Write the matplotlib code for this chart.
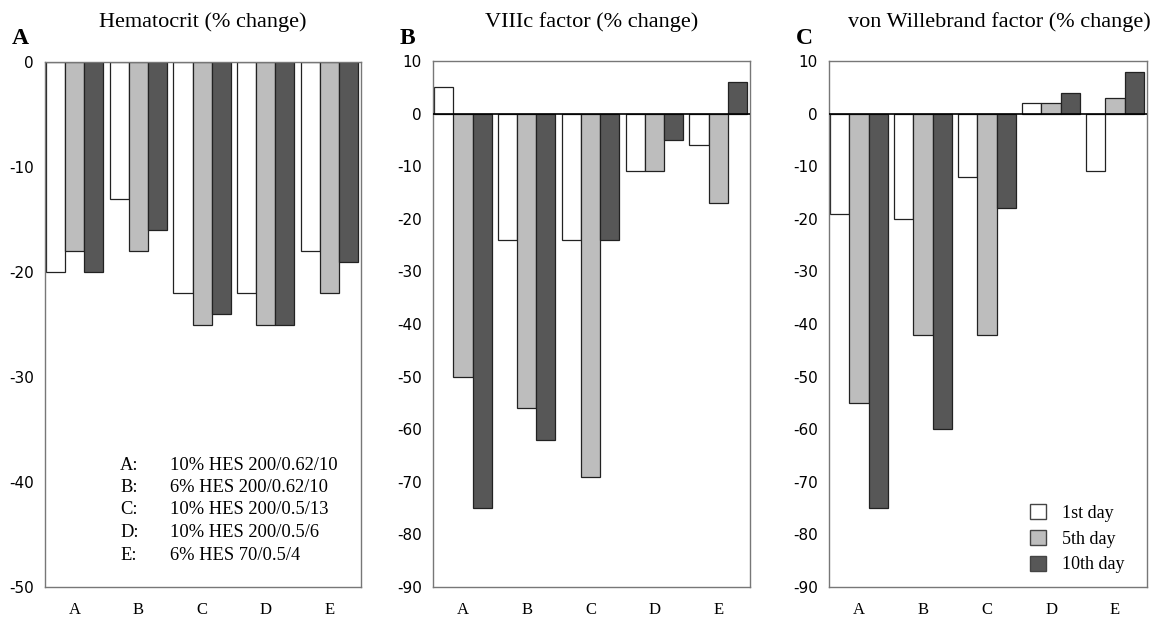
import numpy as np
import matplotlib
matplotlib.use("Agg")
import matplotlib.pyplot as plt
from matplotlib.patches import Patch

plt.rcParams['font.family'] = ['Liberation Serif', 'DejaVu Serif']
plt.rcParams['axes.unicode_minus'] = False

groups = ["A", "B", "C", "D", "E"]
days = ["1st day", "5th day", "10th day"]
day_colors = ["white", "#bdbdbd", "#575757"]

hematocrit = [[-20, -13, -22, -22, -18],
              [-18, -18, -25, -25, -22],
              [-20, -16, -24, -25, -19]]
viiic = [[5, -24, -24, -11, -6],
         [-50, -56, -69, -11, -17],
         [-75, -62, -24, -5, 6]]
vwf = [[-19, -20, -12, 2, -11],
       [-55, -42, -42, 2, 3],
       [-75, -60, -18, 4, 8]]

solutions = ["10% HES 200/0.62/10", "6% HES 200/0.62/10", "10% HES 200/0.5/13",
             "10% HES 200/0.5/6", "6% HES 70/0.5/4"]

titles = ["Hematocrit (% change)", "VIIIc factor (% change)", "von Willebrand factor (% change)"]
letters = ["A", "B", "C"]
ylims = [(-50, 0), (-90, 10), (-90, 10)]
datasets = [hematocrit, viiic, vwf]

fig = plt.figure(figsize=(11.5, 6.17), dpi=100)
W, H = 1150, 617
# axes boxes in pixels: left, right, top
boxes = [(45, 361, 62), (433, 750, 61), (829, 1147, 61)]
bottom = 587

x = np.arange(len(groups))
bw = 0.3
axes = []
for k, (l, r, t) in enumerate(boxes):
    ax = fig.add_axes([l / W, 1 - bottom / H, (r - l) / W, (bottom - t) / H])
    axes.append(ax)
    for j in range(3):
        ax.bar(x + (j - 1) * bw, datasets[k][j], width=bw, color=day_colors[j],
               edgecolor="#222222", linewidth=0.9, zorder=2)
    ax.set_ylim(*ylims[k])
    ax.set_xlim(-0.47, 4.5)
    ax.set_yticks(np.arange(ylims[k][0], ylims[k][1] + 1, 10))
    ax.set_xticks(x)
    ax.set_xticklabels(groups, fontsize=12)
    for lab in ax.get_yticklabels():
        lab.set_family("DejaVu Sans")
        lab.set_fontsize(11)
    ax.tick_params(length=0)
    ax.tick_params(axis="x", pad=11)
    ax.tick_params(axis="y", pad=8)
    for s in ax.spines.values():
        s.set_color("#777777")
        s.set_linewidth(1.0)
    if ylims[k][1] > 0:
        ax.axhline(0, color="black", linewidth=1.2, zorder=3)
    cx = (l + r) / 2 / W
    if k == 2:
        cx += 0.01
    fig.text(cx, 1 - 22 / H, titles[k], ha="center", va="center", fontsize=16)
    fig.text((l - 33) / W, 1 - 38 / H, letters[k], ha="left", va="center",
             fontsize=17, fontweight="bold")

# key for the solutions in panel A
for i, (g, s) in enumerate(zip(groups, solutions)):
    yy = 465 + i * 22.5
    fig.text(120 / W, 1 - yy / H, g + ":", ha="left", va="center", fontsize=13.3)
    fig.text(170 / W, 1 - yy / H, s, ha="left", va="center", fontsize=13.3)

handles = [Patch(facecolor=c, edgecolor="#444444", label=d) for c, d in zip(day_colors, days)]
axes[2].legend(handles=handles, loc="lower left", bbox_to_anchor=(0.58, -0.005),
               frameon=False, fontsize=13, handlelength=0.9, handleheight=0.9,
               handletextpad=0.9, labelspacing=0.45)

fig.savefig("out.png", dpi=100)
